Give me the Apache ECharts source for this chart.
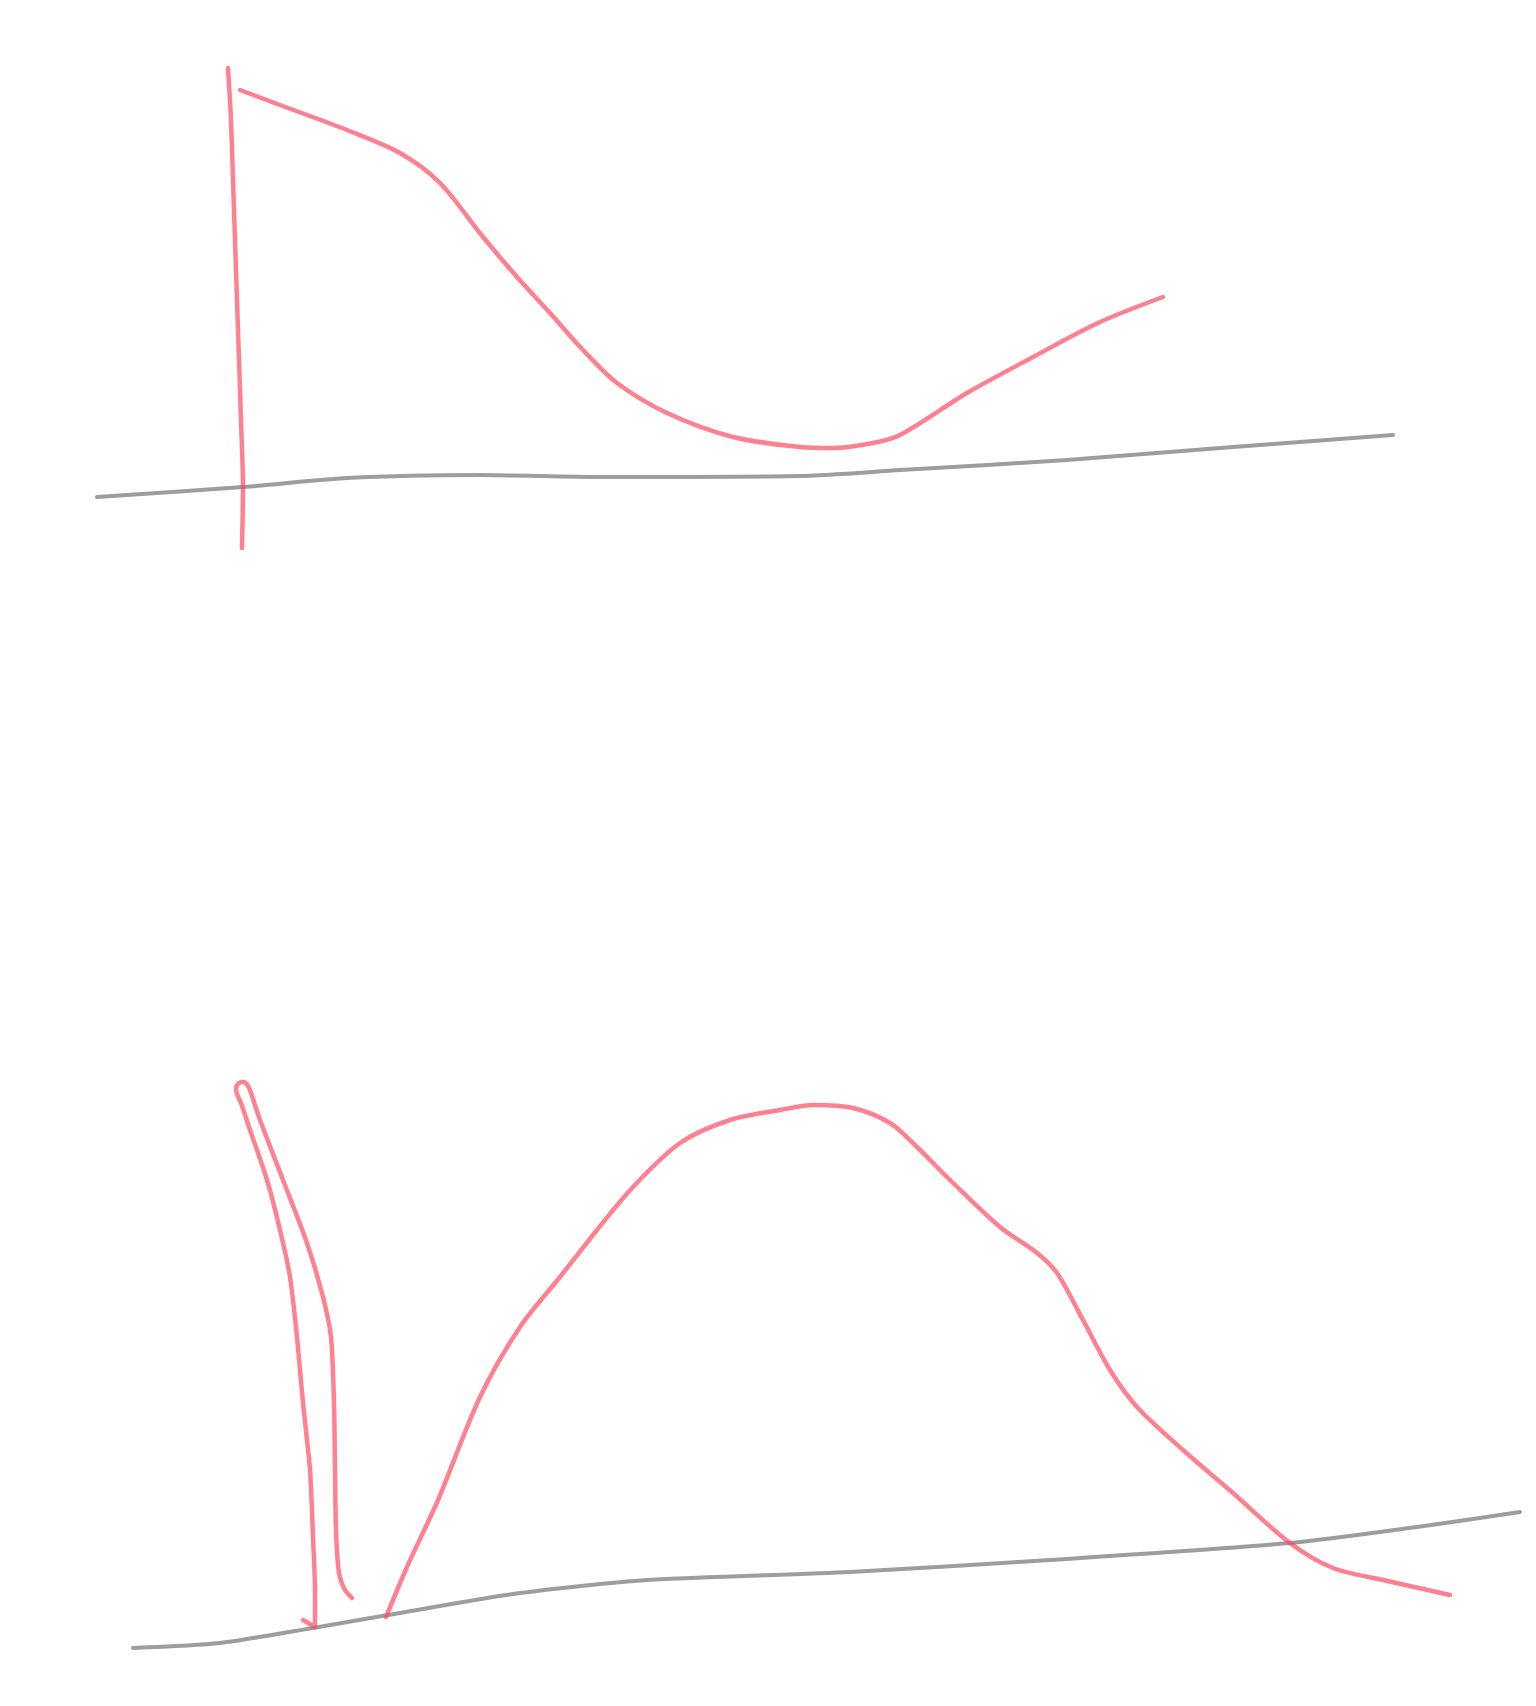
<!DOCTYPE html>
<html>
<head>
<meta charset="utf-8">
<script src="https://cdn.jsdelivr.net/npm/echarts@6/dist/echarts.min.js"></script>
<style>
html,body{margin:0;padding:0;background:#fff;}
#chart{width:1536px;height:1706px;}
</style>
</head>
<body>
<div id="chart"></div>
<script>
// Sketch strokes as [x, y] pairs (x right, y down)
var topVertical = [[228,68],[231,120],[233,180],[235,240],[237,300],[239,360],[241,420],[243,487],[242,548]];
var topCurve = [[240,90],[280,105],[347,130],[400,153],[440,183],[483,237],[517,277],[550,313],[583,350],[617,383],[667,413],[733,437],[800,447],[833,448],[873,443],[900,435],[967,393],[1033,357],[1100,322],[1163,297]];
var topBaseline = [[97,497],[243,487],[347,478],[480,475],[600,477],[800,476],[900,470],[1067,460],[1233,447],[1393,435]];

var bottomLoop = [[303,1620],[315,1627],[315,1590],[313,1537],[310,1470],[303,1403],[297,1337],[290,1277],[280,1230],[267,1180],[250,1130],[241,1103],[237,1094],[236,1088],[239,1083],[244,1082],[248,1086],[251,1093],[260,1120],[283,1180],[307,1243],[323,1297],[331,1337],[334,1403],[335,1470],[336,1530],[339,1573],[345,1590],[352,1598]];
var bottomCurve = [[386,1617],[407,1567],[438,1500],[480,1397],[520,1327],[560,1277],[597,1230],[633,1187],[680,1143],[730,1120],[780,1110],[813,1105],[853,1108],[890,1123],[917,1147],[950,1180],[1000,1227],[1037,1253],[1057,1273],[1083,1320],[1110,1370],[1137,1407],[1183,1450],[1233,1493],[1290,1543],[1333,1568],[1383,1580],[1450,1595]];
var bottomBaseline = [[133,1648],[220,1643],[313,1628],[388,1615],[520,1593],[647,1580],[850,1572],[1050,1560],[1290,1543],[1417,1527],[1520,1512]];

var red = 'rgba(255,70,90,0.68)';
var grey = 'rgba(60,60,60,0.5)';

function stroke(data, color, width, smooth) {
  return {
    type: 'line',
    data: data,
    smooth: smooth,
    symbol: 'none',
    silent: true,
    animation: false,
    lineStyle: { color: color, width: width, cap: 'round', join: 'round' }
  };
}

var chart = echarts.init(document.getElementById('chart'), null, { renderer: 'canvas' });
chart.setOption({
  backgroundColor: '#ffffff',
  animation: false,
  grid: { left: 0, right: 0, top: 0, bottom: 0 },
  xAxis: { type: 'value', min: 0, max: 1536, show: false, splitLine: { show: false } },
  yAxis: { type: 'value', min: 0, max: 1706, inverse: true, show: false, splitLine: { show: false } },
  series: [
    stroke(topBaseline, grey, 4, 0.25),
    stroke(topVertical, red, 4.5, 0.25),
    stroke(topCurve, red, 4.5, 0.3),
    stroke(bottomBaseline, grey, 4, 0.25),
    stroke(bottomLoop, red, 4.5, 0.25),
    stroke(bottomCurve, red, 4.5, 0.3)
  ]
});
</script>
</body>
</html>
